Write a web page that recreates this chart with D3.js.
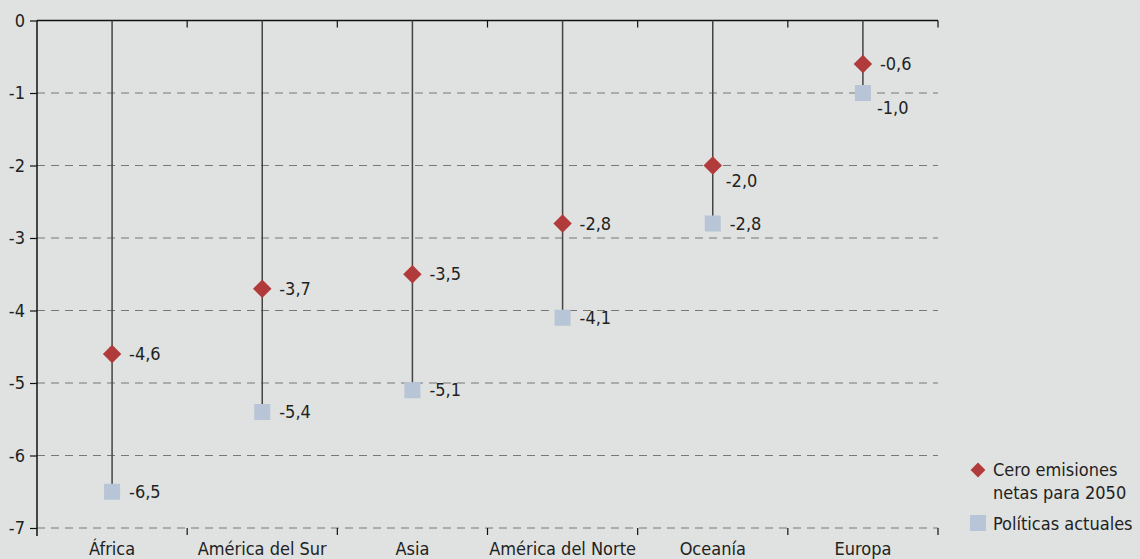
<!DOCTYPE html>
<html lang="es">
<head>
<meta charset="utf-8">
<title>Regiones</title>
<script src="https://d3js.org/d3.v7.min.js"></script>
<style>
  body { margin: 0; background: #dfe2e0; }
  svg { display: block; }
  text { font-family: "Liberation Sans Narrow", "DejaVu Sans Condensed", "Roboto", sans-serif; fill: #222; }
</style>
</head>
<body>
<script>
// datos
const regiones = ["África", "América del Sur", "Asia", "América del Norte", "Oceanía", "Europa"];
const ceroNetas = [-4.6, -3.7, -3.5, -2.8, -2.0, -0.6];
const politicas = [-6.5, -5.4, -5.1, -4.1, -2.8, -1.0];
const ticksY = [0, -1, -2, -3, -4, -5, -6, -7];
const leyenda = [["Cero emisiones", "netas para 2050"], ["Políticas actuales"]];

const w = 1140, h = 559;
const m = { top: 20.5, left: 37, right: 202, bottom: 31 };

const svg = d3.select("body").append("svg")
  .attr("width", w)
  .attr("height", h);

const x = d3.scaleBand().domain(regiones).range([m.left, w - m.right]);
const y = d3.scaleLinear().domain([0, -7]).range([m.top, h - m.bottom]);

const fmt = v => d3.format(".1f")(v).replace(".", ",").replace("−", "-");

// rejilla
svg.append("g").selectAll("line")
  .data(ticksY.filter(d => d !== 0))
  .join("line")
  .attr("x1", m.left).attr("x2", w - m.right)
  .attr("y1", d => y(d)).attr("y2", d => y(d))
  .attr("stroke", "#777").attr("stroke-width", 1)
  .attr("stroke-dasharray", "8,6");

// eje y
const ejeY = svg.append("g")
  .attr("transform", `translate(${m.left},0)`)
  .call(d3.axisLeft(y).tickValues(ticksY).tickFormat(d => d === 0 ? "0" : "-" + Math.abs(d)).tickSize(7).tickSizeOuter(0));
ejeY.select(".domain").attr("stroke", "#111").attr("stroke-width", 1.5).attr("d", `M0,${y(0)}V${y(-7) + 8}`);
ejeY.selectAll(".tick line").attr("stroke", "#111").attr("stroke-width", 1.2);
ejeY.selectAll(".tick text").attr("font-size", 18).attr("x", -12).attr("fill", "#222")
  .style("font-family", "'Liberation Sans Narrow', 'DejaVu Sans Condensed', sans-serif");

// línea superior (0)
svg.append("line")
  .attr("x1", m.left).attr("x2", w - m.right)
  .attr("y1", y(0)).attr("y2", y(0))
  .attr("stroke", "#111").attr("stroke-width", 1.5);

// marcas entre categorías
const bordes = regiones.map(r => x(r) + x.bandwidth());
svg.append("g").selectAll("line")
  .data(bordes)
  .join("line")
  .attr("x1", d => d).attr("x2", d => d)
  .attr("y1", y(0)).attr("y2", y(0) + 7)
  .attr("stroke", "#111").attr("stroke-width", 1.2);
svg.append("g").selectAll("line")
  .data(bordes)
  .join("line")
  .attr("x1", d => d).attr("x2", d => d)
  .attr("y1", y(-7)).attr("y2", y(-7) + 7)
  .attr("stroke", "#111").attr("stroke-width", 1.2);

// etiquetas x
svg.append("g").selectAll("text")
  .data(regiones)
  .join("text")
  .attr("x", d => x(d) + x.bandwidth() / 2)
  .attr("y", h - 4)
  .attr("text-anchor", "middle")
  .attr("font-size", 18)
  .text(d => d);

const cx = i => x(regiones[i]) + x.bandwidth() / 2;

// tallos
svg.append("g").selectAll("line")
  .data(regiones)
  .join("line")
  .attr("x1", (d, i) => cx(i)).attr("x2", (d, i) => cx(i))
  .attr("y1", y(0)).attr("y2", (d, i) => y(politicas[i]))
  .attr("stroke", "#444").attr("stroke-width", 1.5);

// cuadrados
const lado = 16;
svg.append("g").selectAll("rect")
  .data(politicas)
  .join("rect")
  .attr("x", (d, i) => cx(i) - lado / 2)
  .attr("y", d => y(d) - lado / 2)
  .attr("width", lado).attr("height", lado)
  .attr("fill", "#b8c5d6");

// rombos
const rombo = d3.symbol().type(d3.symbolSquare).size(170);
svg.append("g").selectAll("path")
  .data(ceroNetas)
  .join("path")
  .attr("d", rombo)
  .attr("transform", (d, i) => `translate(${cx(i)},${y(d)}) rotate(45)`)
  .attr("fill", "#b13b3b");

// valores (Oceanía rombo y Europa cuadrado van abajo a la derecha)
svg.append("g").selectAll("text")
  .data(ceroNetas)
  .join("text")
  .attr("x", (d, i) => cx(i) + (i === 4 ? 13 : 17))
  .attr("y", (d, i) => y(d) + (i === 4 ? 21 : 6))
  .attr("font-size", 18)
  .text(d => fmt(d));

svg.append("g").selectAll("text")
  .data(politicas)
  .join("text")
  .attr("x", (d, i) => cx(i) + (i === 5 ? 14 : 17))
  .attr("y", (d, i) => y(d) + (i === 5 ? 21 : 6))
  .attr("font-size", 18)
  .text(d => fmt(d));

// leyenda
const lx = 978;
svg.append("path")
  .attr("d", d3.symbol().type(d3.symbolSquare).size(110))
  .attr("transform", `translate(${lx},470) rotate(45)`)
  .attr("fill", "#b13b3b");
svg.append("rect")
  .attr("x", lx - 8).attr("y", 515)
  .attr("width", 16).attr("height", 16)
  .attr("fill", "#b8c5d6");
const ley = svg.append("g");
ley.append("text").attr("x", 993).attr("y", 476).attr("font-size", 18).text(leyenda[0][0]);
ley.append("text").attr("x", 993).attr("y", 499).attr("font-size", 18).text(leyenda[0][1]);
ley.append("text").attr("x", 993).attr("y", 530).attr("font-size", 18).text(leyenda[1][0]);
</script>
</body>
</html>
